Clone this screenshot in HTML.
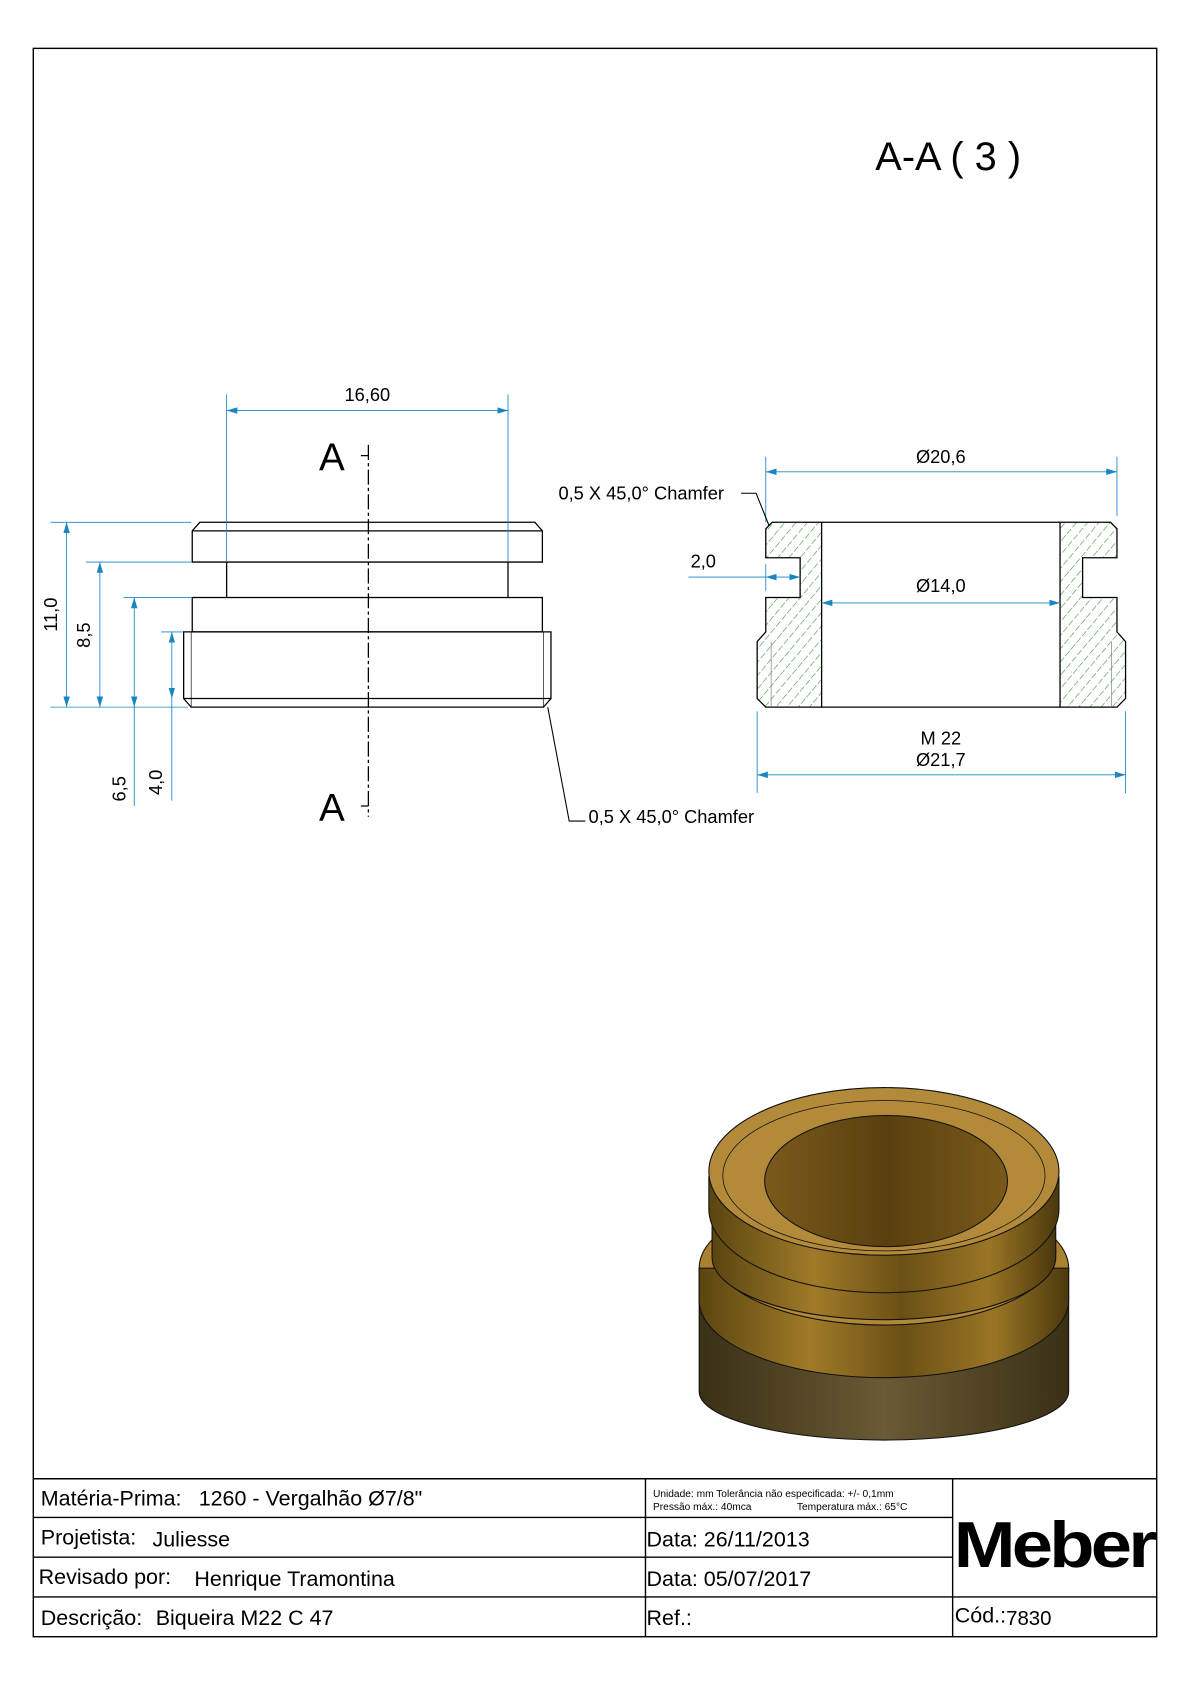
<!DOCTYPE html>
<html><head><meta charset="utf-8"><style>html,body{margin:0;padding:0;background:#fff}svg{display:block}</style></head><body>
<svg width="1190" height="1684" viewBox="0 0 1108 1567" preserveAspectRatio="none" xmlns="http://www.w3.org/2000/svg" font-family="Liberation Sans, Arial, sans-serif">
<defs>
<pattern id="h" patternUnits="userSpaceOnUse" width="8" height="8" patternTransform="rotate(40)">
<line x1="0" y1="0" x2="0" y2="8" stroke="#2f9a2f" stroke-width="1.1" stroke-dasharray="6,2"/></pattern>
<marker id="a" markerWidth="10" markerHeight="6" refX="10" refY="3" orient="auto-start-reverse" markerUnits="userSpaceOnUse"><path d="M0,0 L10,3 L0,6z" fill="#1a86c0"/></marker>
<linearGradient id="g1" x1="0" x2="1"><stop offset="0" stop-color="#5a4510"/><stop offset=".3" stop-color="#a07a28"/><stop offset=".55" stop-color="#6b5015"/><stop offset=".8" stop-color="#9a7525"/><stop offset="1" stop-color="#4a380c"/></linearGradient>
<linearGradient id="g2" x1="0" x2="1"><stop offset="0" stop-color="#3a3015"/><stop offset=".5" stop-color="#6a5a35"/><stop offset="1" stop-color="#3a3015"/></linearGradient>
<linearGradient id="g3" x1="0" x2="1"><stop offset="0" stop-color="#7a5a1a"/><stop offset=".5" stop-color="#5a4010"/><stop offset="1" stop-color="#7a5a1a"/></linearGradient>
</defs>
<rect x="31" y="45" width="1046" height="1478" fill="none" stroke="#000" stroke-width="1.3"/>
<text x="815" y="158" font-size="37">A-A ( 3 )</text>

<g fill="none" stroke="#000" stroke-width="1.2">
<path d="M186,486 H498 L505,494 V523 H179 V494 Z"/>
<line x1="179" y1="494" x2="505" y2="494"/>
<path d="M211,523 V556 M473,523 V556"/>
<rect x="179" y="556" width="326" height="32"/>
<path d="M171,588 H513 V650 L506,658 H178 L171,650 Z"/>
<line x1="171" y1="650" x2="513" y2="650"/>
<path d="M178,588 V658 M506,588 V658" stroke-width="0.6"/>
</g>
<line x1="343" y1="414" x2="343" y2="760" stroke="#000" stroke-width="1.2" stroke-dasharray="14,3,3,3"/>
<path d="M336,424 H343 M336,750 H343" stroke="#000" stroke-width="1.2"/>
<text x="297" y="438" font-size="36">A</text>
<text x="297" y="764" font-size="36">A</text>
<g stroke="#1a86c0" stroke-width="0.8" fill="none">
<path d="M211,367 V523 M473,367 V523"/>
<line x1="211" y1="382" x2="473" y2="382" marker-start="url(#a)" marker-end="url(#a)"/>
<path d="M47,486 H178 M80,523 H178 M115,556 H178 M150,588 H170 M47,658 H175"/>
<line x1="62" y1="486" x2="62" y2="658" marker-start="url(#a)" marker-end="url(#a)"/>
<line x1="93" y1="523" x2="93" y2="658" marker-start="url(#a)" marker-end="url(#a)"/>
<line x1="125" y1="556" x2="125" y2="658" marker-start="url(#a)" marker-end="url(#a)"/>
<line x1="125" y1="658" x2="125" y2="750"/>
<line x1="160" y1="588" x2="160" y2="650" marker-start="url(#a)" marker-end="url(#a)"/>
<line x1="160" y1="650" x2="160" y2="745"/>
</g>
<text x="342" y="373" font-size="17" text-anchor="middle">16,60</text>
<text transform="translate(53,572) rotate(-90)" font-size="17" text-anchor="middle">11,0</text>
<text transform="translate(84,591) rotate(-90)" font-size="17" text-anchor="middle">8,5</text>
<text transform="translate(117,734) rotate(-90)" font-size="17" text-anchor="middle">6,5</text>
<text transform="translate(151,728) rotate(-90)" font-size="17" text-anchor="middle">4,0</text>
<path d="M510,658 L530,764 H545" fill="none" stroke="#000" stroke-width="1"/>
<text x="548" y="766" font-size="17">0,5 X 45,0° Chamfer</text>

<path d="M719,486 H765 V658 H713 L705,650 V597 L713,588 V556 H745 V519 H713 V492 Z" fill="url(#h)" stroke="#000" stroke-width="1.2"/>
<path d="M987,486 H1034 L1040,492 V519 H1008 V556 H1040 V588 L1048,597 V650 L1040,658 H987 Z" fill="url(#h)" stroke="#000" stroke-width="1.2"/>
<path d="M765,486 H987 M765,658 H987" stroke="#000" stroke-width="1.2"/>
<path d="M718,597 V658 M1035,597 V658" stroke="#777" stroke-width="0.6"/>
<g stroke="#1a86c0" stroke-width="0.8" fill="none">
<path d="M713,425 V486 M1040,425 V480"/>
<line x1="713" y1="439" x2="1040" y2="439" marker-start="url(#a)" marker-end="url(#a)"/>
<line x1="765" y1="561" x2="987" y2="561" marker-start="url(#a)" marker-end="url(#a)"/>
<path d="M705,662 V738 M1048,662 V738"/>
<line x1="705" y1="721" x2="1048" y2="721" marker-start="url(#a)" marker-end="url(#a)"/>
<line x1="641" y1="537" x2="713" y2="537"/>
<line x1="713" y1="537" x2="745" y2="537" marker-start="url(#a)" marker-end="url(#a)"/>
<path d="M713,525 V550"/>
</g>
<text x="876" y="431" font-size="17" text-anchor="middle">Ø20,6</text>
<text x="876" y="551" font-size="17" text-anchor="middle">Ø14,0</text>
<text x="876" y="693" font-size="17" text-anchor="middle">M 22</text>
<text x="876" y="713" font-size="17" text-anchor="middle">Ø21,7</text>
<text x="643" y="528" font-size="17">2,0</text>
<text x="520" y="465" font-size="17">0,5 X 45,0° Chamfer</text>
<path d="M690,459 H704 L716,489" fill="none" stroke="#000" stroke-width="1"/>

<g stroke="#111" stroke-width="1">
<path d="M651,1180 V1295 A172,45 0 0 0 995,1295 V1180 Z" fill="url(#g2)"/>
<ellipse cx="823" cy="1180" rx="172" ry="72" fill="#a98130"/>
<path d="M651,1180 V1210 A172,72 0 0 0 995,1210 V1180 Z" fill="url(#g1)"/>
<ellipse cx="823" cy="1165" rx="160" ry="68" fill="#b08838"/>
<path d="M663,1110 V1170 A160,58 0 0 0 983,1170 V1110 Z" fill="url(#g1)"/>
<path d="M660,1095 V1125 A163,78 0 0 0 986,1125 V1095 Z" fill="url(#g1)"/>
<ellipse cx="823" cy="1090" rx="163" ry="78" fill="#b28a3a"/>
<ellipse cx="823" cy="1094" rx="150" ry="70" fill="none" stroke-width="0.7"/>
<ellipse cx="825" cy="1099" rx="113" ry="61" fill="url(#g3)"/>
</g>

<g stroke="#000" stroke-width="1.3" fill="none">
<path d="M31,1376 H1077 M31,1412 H887 M31,1449 H887 M31,1486 H1077 M601,1376 V1523 M887,1376 V1523"/>
</g>
<g font-size="20">
<text x="38" y="1401">Matéria-Prima:<tspan x="185">1260 - Vergalhão Ø7/8"</tspan></text>
<text x="38" y="1437">Projetista:<tspan x="142" y="1439">Juliesse</tspan></text>
<text x="36" y="1474">Revisado por:<tspan x="181" y="1476">Henrique Tramontina</tspan></text>
<text x="38" y="1512">Descrição:<tspan x="145">Biqueira M22 C 47</tspan></text>
<text x="602" y="1439">Data: 26/11/2013</text>
<text x="602" y="1476">Data: 05/07/2017</text>
<text x="602" y="1512">Ref.:</text>
<text x="889" y="1510">Cód.:<tspan font-size="19" y="1512">7830</tspan></text>
</g>
<text x="608" y="1393" font-size="9.5">Unidade: mm Tolerância não especificada: +/- 0,1mm</text>
<text x="608" y="1405" font-size="9.5">Pressão máx.: 40mca<tspan x="742">Temperatura máx.: 65°C</tspan></text>
<text x="888" y="1458" font-size="60" font-weight="bold" letter-spacing="-3" textLength="186" lengthAdjust="spacingAndGlyphs">Meber</text>
</svg>
</body></html>
